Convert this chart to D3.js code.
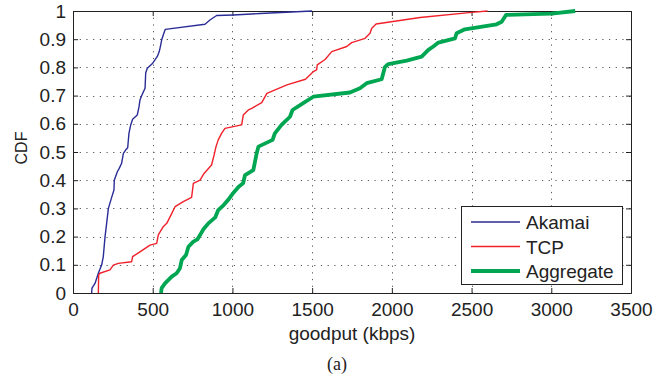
<!DOCTYPE html>
<html>
<head>
<meta charset="utf-8">
<script src="https://cdn.jsdelivr.net/npm/d3@7"></script>
<style>
  body { margin: 0; background: white; }
  text { font-family: "Liberation Sans", Arial, Helvetica, sans-serif; fill: #222; }
</style>
</head>
<body>
<script>
// goodput (kbps) vs CDF
var akamai = [
  [117,0],[119,0.017],[138,0.034],[159,0.07],[180,0.1],[190,0.129],[201,0.2],[211,0.247],
  [222,0.3],[243,0.34],[257,0.365],[259,0.4],[278,0.43],[290,0.442],[305,0.46],[316,0.495],
  [330,0.507],[343,0.515],[351,0.566],[362,0.596],[374,0.616],[403,0.631],[414,0.66],[420,0.684],
  [437,0.708],[452,0.726],[456,0.78],[466,0.797],[500,0.815],[529,0.839],[541,0.856],[550,0.879],
  [556,0.897],[566,0.915],[579,0.935],[828,0.953],[859,0.968],[901,0.984],[1005,0.986],
  [1173,0.991],[1500,1]
];

var tcp = [
  [159,0],[161,0.064],[169,0.07],[232,0.082],[253,0.099],[284,0.105],[368,0.111],[374,0.129],
  [420,0.146],[483,0.17],[525,0.176],[535,0.206],[566,0.235],[588,0.247],[615,0.277],[640,0.306],
  [692,0.324],[744,0.339],[755,0.389],[797,0.4],[822,0.424],[869,0.454],[885,0.489],[897,0.519],
  [911,0.543],[932,0.566],[953,0.584],[1058,0.596],[1068,0.631],[1100,0.649],[1121,0.655],
  [1184,0.675],[1216,0.708],[1342,0.738],[1458,0.758],[1507,0.785],[1528,0.791],[1532,0.809],
  [1581,0.828],[1623,0.856],[1717,0.874],[1748,0.888],[1832,0.903],[1863,0.921],[1874,0.939],
  [1901,0.954],[2177,0.977],[2500,0.995],[2600,1]
];

var aggregate = [
  [552,0],[556,0.017],[577,0.034],[619,0.058],[650,0.07],[671,0.088],[682,0.117],[709,0.135],
  [724,0.164],[755,0.182],[780,0.19],[797,0.206],[818,0.226],[849,0.247],[892,0.268],[911,0.294],
  [945,0.312],[976,0.332],[1004,0.354],[1039,0.377],[1067,0.389],[1079,0.418],[1131,0.436],
  [1152,0.495],[1163,0.519],[1252,0.543],[1266,0.566],[1308,0.596],[1361,0.625],[1377,0.649],
  [1444,0.673],[1507,0.696],[1737,0.711],[1800,0.726],[1842,0.744],[1936,0.758],[1957,0.802],
  [1978,0.812],[2093,0.824],[2187,0.838],[2229,0.862],[2260,0.874],[2292,0.888],[2396,0.903],
  [2406,0.921],[2458,0.935],[2657,0.953],[2689,0.962],[2716,0.986],[2887,0.989],[3002,0.991],
  [3150,1]
];

var seriesNames = ['Akamai', 'TCP', 'Aggregate'];
var xTicks = [0, 500, 1000, 1500, 2000, 2500, 3000, 3500];
var xTickLabels = ['0', '500', '1000', '1500', '2000', '2500', '3000', '3500'];
var yTicks = [0, 0.1, 0.2, 0.3, 0.4, 0.5, 0.6, 0.7, 0.8, 0.9, 1];
var yTickLabels = ['0', '0.1', '0.2', '0.3', '0.4', '0.5', '0.6', '0.7', '0.8', '0.9', '1'];

var width = 668,
    height = 382;

var plotLeft = 73, plotRight = 631, plotTop = 11, plotBottom = 293;

var svg = d3.select('body')
  .append('svg')
  .attr('width', width)
  .attr('height', height);

var x = d3.scaleLinear().domain([0, 3500]).range([plotLeft, plotRight]);
var y = d3.scaleLinear().domain([0, 1]).range([plotBottom, plotTop]);

// dotted grid
svg.append('g').selectAll('line')
  .data(xTicks.slice(1, -1))
  .enter().append('line')
  .attr('x1', function (d) { return Math.round(x(d)) + 0.5; })
  .attr('x2', function (d) { return Math.round(x(d)) + 0.5; })
  .attr('y1', plotTop)
  .attr('y2', plotBottom)
  .attr('stroke', '#555')
  .attr('stroke-width', 1)
  .attr('stroke-dasharray', '1.2,5.5');

svg.append('g').selectAll('line')
  .data(yTicks.slice(1, -1))
  .enter().append('line')
  .attr('x1', plotLeft)
  .attr('x2', plotRight)
  .attr('y1', function (d) { return Math.round(y(d)) + 0.5; })
  .attr('y2', function (d) { return Math.round(y(d)) + 0.5; })
  .attr('stroke', '#555')
  .attr('stroke-width', 1)
  .attr('stroke-dasharray', '1.2,5.5');

// axes with inward ticks, box on all sides
var xAxis = d3.axisBottom(x).tickValues(xTicks).tickSize(-5).tickPadding(10)
  .tickFormat(function (d, i) { return xTickLabels[i]; });
var yAxis = d3.axisLeft(y).tickValues(yTicks).tickSize(-5).tickPadding(7)
  .tickFormat(function (d, i) { return yTickLabels[i]; });

svg.append('g')
  .attr('transform', 'translate(0,' + plotBottom + ')')
  .call(xAxis);
svg.append('g')
  .attr('transform', 'translate(' + plotLeft + ',0)')
  .call(yAxis);

svg.append('g')
  .attr('transform', 'translate(0,' + plotTop + ')')
  .call(d3.axisTop(x).tickValues(xTicks).tickSize(-5).tickFormat(''));
svg.append('g')
  .attr('transform', 'translate(' + plotRight + ',0)')
  .call(d3.axisRight(y).tickValues(yTicks).tickSize(-5).tickFormat(''));

svg.selectAll('.domain').attr('stroke', '#222');
svg.selectAll('.tick line').attr('stroke', '#222');
svg.selectAll('.tick text')
  .style('font-size', '19px')
  .style('font-family', '"Liberation Sans", Arial, sans-serif')
  .attr('fill', '#222');

// axis titles
svg.append('text')
  .attr('x', 352)
  .attr('y', 340)
  .attr('text-anchor', 'middle')
  .style('font-size', '19px')
  .text('goodput (kbps)');

svg.append('text')
  .attr('transform', 'translate(27,148) rotate(-90)')
  .attr('text-anchor', 'middle')
  .style('font-size', '16px')
  .text('CDF');

svg.append('text')
  .attr('x', 337)
  .attr('y', 370)
  .attr('text-anchor', 'middle')
  .style('font-size', '18px')
  .style('font-family', '"Liberation Serif", "Times New Roman", serif')
  .text('(a)');

// curves
var line = d3.line()
  .x(function (d) { return x(d[0]); })
  .y(function (d) { return y(d[1]); });

var curves = [
  { data: akamai, color: '#2a2d96', w: 1.4 },
  { data: tcp, color: '#f0212b', w: 1.4 },
  { data: aggregate, color: '#00a651', w: 3.8 }
];

svg.append('g').selectAll('path')
  .data(curves)
  .enter().append('path')
  .attr('d', function (d) { return line(d.data); })
  .attr('fill', 'none')
  .attr('stroke', function (d) { return d.color; })
  .attr('stroke-width', function (d) { return d.w; })
  .attr('stroke-linejoin', 'round');

// legend
var legend = svg.append('g');

legend.append('rect')
  .attr('x', 461.5)
  .attr('y', 206.5)
  .attr('width', 161)
  .attr('height', 78)
  .attr('fill', 'white')
  .attr('stroke', '#222')
  .attr('stroke-width', 1);

var rows = legend.selectAll('g.row')
  .data(curves)
  .enter().append('g')
  .attr('class', 'row')
  .attr('transform', function (d, i) { return 'translate(0,' + (222 + i * 24.5) + ')'; });

rows.append('line')
  .attr('x1', 471)
  .attr('x2', 520)
  .attr('stroke', function (d) { return d.color; })
  .attr('stroke-width', function (d) { return d.w; });

rows.append('text')
  .attr('x', 526)
  .attr('y', 7)
  .style('font-size', '19px')
  .text(function (d, i) { return seriesNames[i]; });
</script>
</body>
</html>
